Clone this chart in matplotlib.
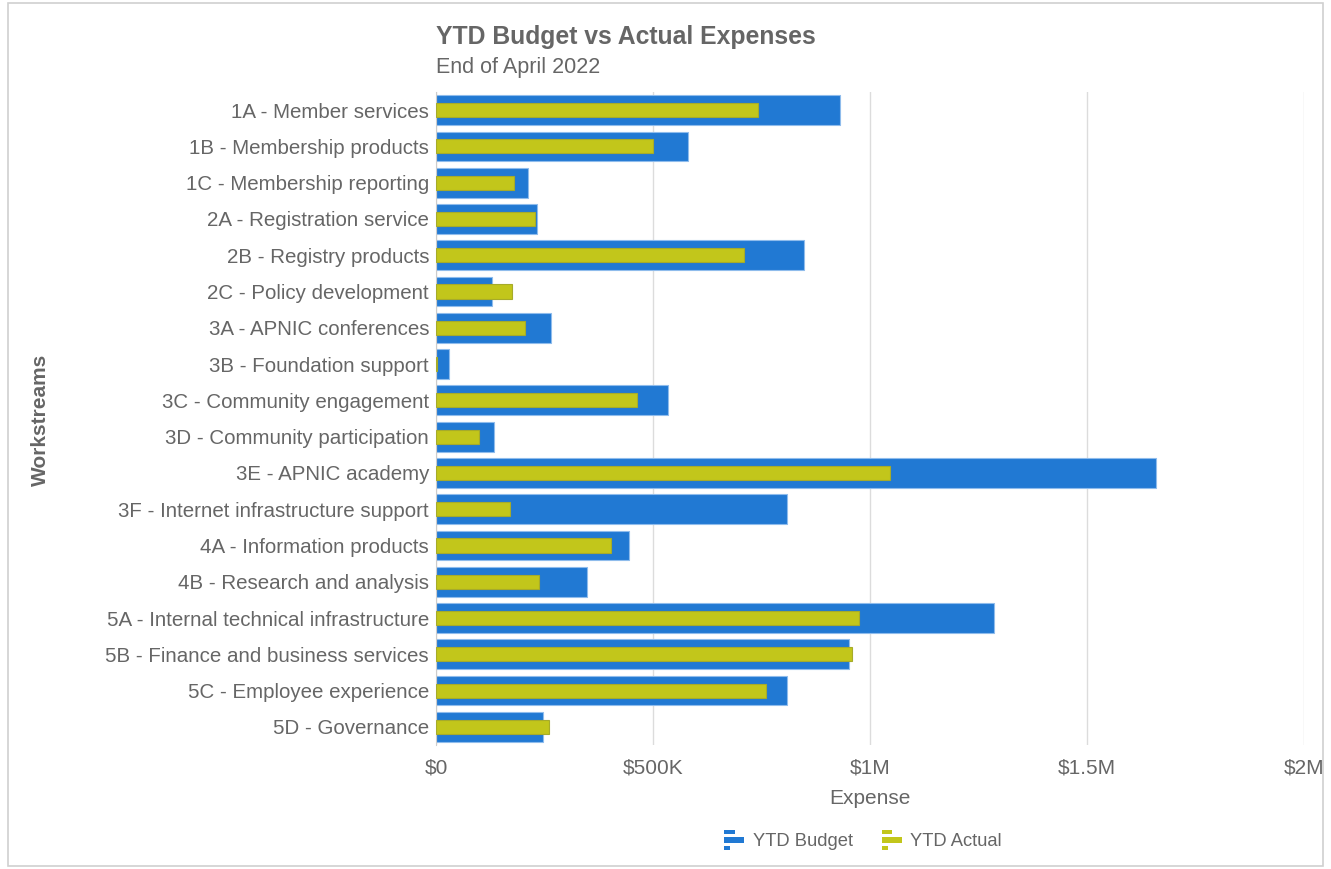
import matplotlib.pyplot as plt
from matplotlib.patches import Rectangle
from matplotlib.legend_handler import HandlerBase
from matplotlib.ticker import FuncFormatter
import numpy as np

plt.rcParams['font.family'] = ['Liberation Sans', 'DejaVu Sans']

workstreams = [
    '1A - Member services', '1B - Membership products', '1C - Membership reporting',
    '2A - Registration service', '2B - Registry products', '2C - Policy development',
    '3A - APNIC conferences', '3B - Foundation support', '3C - Community engagement',
    '3D - Community participation', '3E - APNIC academy',
    '3F - Internet infrastructure support', '4A - Information products',
    '4B - Research and analysis', '5A - Internal technical infrastructure',
    '5B - Finance and business services', '5C - Employee experience', '5D - Governance',
]
ytd_budget = [931000, 580000, 212000, 232000, 847000, 128000, 266000, 30000, 535000,
              133000, 1659000, 809000, 444000, 347000, 1285000, 952000, 809000, 246000]
ytd_actual = [743000, 500000, 180000, 228000, 709000, 176000, 206000, 2000, 464000,
              99000, 1047000, 171000, 404000, 237000, 974000, 959000, 761000, 261000]
x_ticks = [0, 500000, 1000000, 1500000, 2000000]

BLUE = '#2179d3'
GREEN = '#c2c61b'
GREY = '#666666'


def money(v, pos=None):
    if v == 0:
        return '$0'
    if v >= 1e6:
        return '${:g}M'.format(v / 1e6)
    return '${:g}K'.format(v / 1e3)


class BarIcon(HandlerBase):
    # three stacked bars of different length, like a tiny bar chart
    def create_artists(self, legend, orig, xdescent, ydescent, w, h, fontsize, trans):
        c = orig.patches[0].get_facecolor()
        x0 = -xdescent
        cy = -ydescent + h / 2
        arts = []
        # (length fraction, bottom offset from centre, thickness) in handle-height units
        rows = [(0.52, 0.28, 0.22), (1.0, -0.13, 0.26), (0.28, -0.50, 0.22)]
        for frac, off, hh in rows:
            arts.append(Rectangle((x0, cy + h * off), w * frac, h * hh,
                                  facecolor=c, edgecolor='none', transform=trans))
        return arts


fig = plt.figure(figsize=(13.31, 8.69), dpi=100)
fig.patches.append(Rectangle((0.006, 0.004), 0.988, 0.992, transform=fig.transFigure,
                             facecolor='white', edgecolor='#d0d0d0', lw=1.2, zorder=-1))

ax = fig.add_axes([436 / 1331, 1 - 745 / 869, 868 / 1331, (745 - 92) / 869])
y = np.arange(len(workstreams))

b1 = ax.barh(y, ytd_budget, height=0.82, color=BLUE, edgecolor='#8fbcec', lw=0.8,
             label='YTD Budget', zorder=2)
b2 = ax.barh(y, ytd_actual, height=0.39, color=GREEN, edgecolor='#a6ab2a', lw=0.8,
             label='YTD Actual', zorder=3)

ax.set_xlim(0, 2000000)
ax.set_ylim(len(workstreams) - 0.5, -0.5)
ax.set_xticks(x_ticks)
ax.xaxis.set_major_formatter(FuncFormatter(money))
ax.set_yticks(y)
ax.set_yticklabels(workstreams)
ax.tick_params(axis='y', length=0, pad=5, labelsize=14.8, labelcolor=GREY)
ax.tick_params(axis='x', length=0, pad=10, labelsize=15, labelcolor=GREY)
ax.grid(axis='x', color='#dcdcdc', lw=1, zorder=0)
for s in ['top', 'right', 'bottom']:
    ax.spines[s].set_visible(False)
ax.spines['left'].set_color('#cccccc')

ax.set_xlabel('Expense', fontsize=15, color=GREY, labelpad=8)
fig.text(40 / 1331, 1 - 420 / 869, 'Workstreams', rotation=90, fontsize=15,
         fontweight='bold', color=GREY, ha='center', va='center')

fig.text(436 / 1331, 1 - 37 / 869, 'YTD Budget vs Actual Expenses', fontsize=17.8,
         fontweight='bold', color=GREY, ha='left', va='center')
fig.text(436 / 1331, 1 - 68 / 869, 'End of April 2022', fontsize=15.5,
         color=GREY, ha='left', va='center')

fig.legend(handles=[b1, b2], labels=['YTD Budget', 'YTD Actual'], loc='center',
           bbox_to_anchor=(863 / 1331, 1 - 840 / 869),
           ncol=2, frameon=False, fontsize=13.2, labelcolor=GREY, handlelength=1.1,
           handleheight=1.3, handletextpad=0.45, columnspacing=1.6,
           handler_map={b1: BarIcon(), b2: BarIcon()})

fig.savefig('out.png', dpi=100)
